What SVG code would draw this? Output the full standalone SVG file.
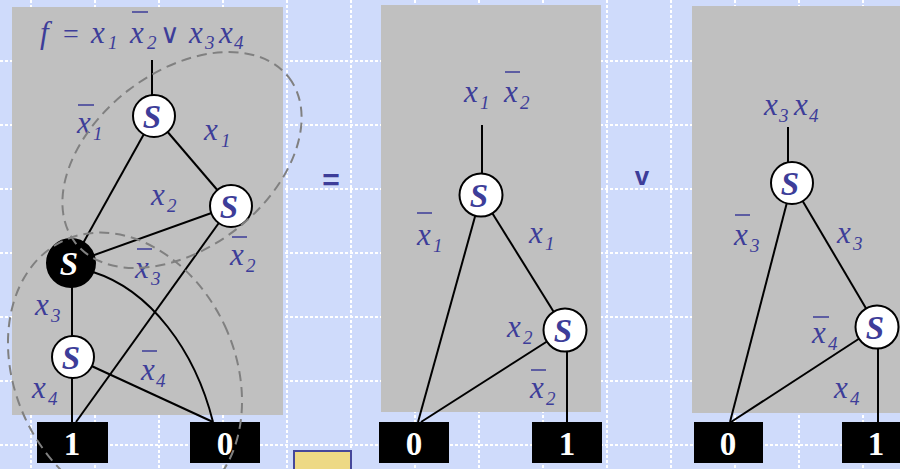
<svg xmlns="http://www.w3.org/2000/svg" width="900" height="469" viewBox="0 0 900 469">
<style>
.grid line{stroke:#ffffff;stroke-width:2;stroke-dasharray:3 2}
.panel{fill:#c0c0c0}
.box{fill:#000000}
.num{font-family:"Liberation Serif",serif;font-weight:bold;font-size:33px;fill:#ffffff;text-anchor:middle}
.lbl{font-family:"Liberation Serif",serif;font-style:italic;font-size:31px;fill:#3d3d99}
.sub{font-size:19px}
.up{font-family:"Liberation Serif","DejaVu Serif",serif;font-size:28px;fill:#3d3d99}
.or{font-family:"DejaVu Serif",serif;font-size:27px;fill:#3d3d99}
.op{font-family:"Liberation Sans",sans-serif;font-weight:bold;fill:#3d3d99}
.bar{stroke:#3d3d99;stroke-width:1.5}
.edge{stroke:#000000;stroke-width:2;fill:none}
.node{fill:#ffffff;stroke:#000000;stroke-width:2}
.nodeb{fill:#000000;stroke:#000000;stroke-width:2}
.s{font-family:"Liberation Serif",serif;font-style:italic;font-weight:bold;font-size:33px;fill:#3d3d99;text-anchor:middle}
.sw{fill:#ffffff}
.dash{fill:none;stroke:#808080;stroke-width:2;stroke-dasharray:10 6}
</style>
<rect x="0" y="0" width="900" height="469" fill="#cfdbfb"/>
<g class="grid">
<line x1="31" y1="0" x2="31" y2="469"/><line x1="95" y1="0" x2="95" y2="469"/><line x1="159" y1="0" x2="159" y2="469"/><line x1="223" y1="0" x2="223" y2="469"/><line x1="287" y1="0" x2="287" y2="469"/><line x1="351" y1="0" x2="351" y2="469"/><line x1="415" y1="0" x2="415" y2="469"/><line x1="479" y1="0" x2="479" y2="469"/><line x1="543" y1="0" x2="543" y2="469"/><line x1="607" y1="0" x2="607" y2="469"/><line x1="671" y1="0" x2="671" y2="469"/><line x1="735" y1="0" x2="735" y2="469"/><line x1="799" y1="0" x2="799" y2="469"/><line x1="863" y1="0" x2="863" y2="469"/>
<line x1="0" y1="61" x2="900" y2="61"/><line x1="0" y1="125" x2="900" y2="125"/><line x1="0" y1="189" x2="900" y2="189"/><line x1="0" y1="253" x2="900" y2="253"/><line x1="0" y1="317" x2="900" y2="317"/><line x1="0" y1="381" x2="900" y2="381"/><line x1="0" y1="445" x2="900" y2="445"/>
</g>
<rect class="panel" x="12" y="7" width="271" height="408"/>
<rect class="panel" x="381" y="5" width="220" height="407"/>
<rect class="panel" x="692" y="6" width="220" height="407"/>
<rect x="294" y="451" width="57" height="24" fill="#edd985" stroke="#45479a" stroke-width="2"/>
<text class="op" x="331" y="190" font-size="30" text-anchor="middle">=</text>
<text class="op" x="642" y="185" font-size="26" text-anchor="middle">v</text>

<g id="formula">
<text class="lbl" x="40" y="43">f</text>
<text class="up" x="63" y="43">=</text>
<text class="lbl" x="91" y="43">x</text><text class="lbl sub" x="108" y="49">1</text>
<line class="bar" x1="132" y1="12" x2="148" y2="12"/>
<text class="lbl" x="130" y="43">x</text><text class="lbl sub" x="147" y="49">2</text>
<text class="or" x="160" y="43">∨</text>
<text class="lbl" x="189" y="43">x</text><text class="lbl sub" x="205" y="49">3</text>
<text class="lbl" x="219" y="43">x</text><text class="lbl sub" x="234" y="49">4</text>
</g>

<g id="connectors">
<line class="edge" x1="152" y1="60" x2="152" y2="116"/>
<line class="edge" x1="154" y1="116" x2="72" y2="263"/>
<line class="edge" x1="154" y1="116" x2="231" y2="206"/>
<line class="edge" x1="72" y1="263" x2="231" y2="206"/>
<line class="edge" x1="231" y1="206" x2="76" y2="422"/>
<path class="edge" d="M93,272 C150,290 195,350 213,422"/>
<line class="edge" x1="72" y1="263" x2="72" y2="357"/>
<line class="edge" x1="72" y1="357" x2="72" y2="422"/>
<line class="edge" x1="72" y1="357" x2="213" y2="422"/>

<line class="edge" x1="482" y1="125" x2="482" y2="195"/>
<line class="edge" x1="481" y1="195" x2="418" y2="422"/>
<line class="edge" x1="481" y1="195" x2="565" y2="330"/>
<line class="edge" x1="565" y1="330" x2="421" y2="422"/>
<line class="edge" x1="567" y1="330" x2="567" y2="422"/>

<line class="edge" x1="788" y1="127" x2="788" y2="183"/>
<line class="edge" x1="792" y1="183" x2="730" y2="422"/>
<line class="edge" x1="792" y1="183" x2="877" y2="327"/>
<line class="edge" x1="877" y1="327" x2="731" y2="422"/>
<line class="edge" x1="878" y1="327" x2="878" y2="422"/>
</g>

<g id="labels">
<line class="bar" x1="78" y1="105" x2="94" y2="105"/>
<text class="lbl" x="77" y="133">x</text><text class="lbl sub" x="93" y="140">1</text>
<text class="lbl" x="204" y="140">x</text><text class="lbl sub" x="221" y="147">1</text>
<text class="lbl" x="151" y="205">x</text><text class="lbl sub" x="167" y="212">2</text>
<line class="bar" x1="232" y1="237" x2="247" y2="237"/>
<text class="lbl" x="230" y="265">x</text><text class="lbl sub" x="246" y="272">2</text>
<line class="bar" x1="137" y1="249" x2="152" y2="249"/>
<text class="lbl" x="135" y="278">x</text><text class="lbl sub" x="151" y="285">3</text>
<text class="lbl" x="35" y="315">x</text><text class="lbl sub" x="51" y="322">3</text>
<line class="bar" x1="142" y1="351" x2="157" y2="351"/>
<text class="lbl" x="141" y="380">x</text><text class="lbl sub" x="156" y="387">4</text>
<text class="lbl" x="32" y="398">x</text><text class="lbl sub" x="48" y="405">4</text>

<text class="lbl" x="464" y="102">x</text><text class="lbl sub" x="480" y="109">1</text>
<line class="bar" x1="505" y1="72" x2="520" y2="72"/>
<text class="lbl" x="504" y="102">x</text><text class="lbl sub" x="520" y="109">2</text>
<line class="bar" x1="417" y1="213" x2="432" y2="213"/>
<text class="lbl" x="417" y="245">x</text><text class="lbl sub" x="433" y="252">1</text>
<text class="lbl" x="529" y="243">x</text><text class="lbl sub" x="545" y="250">1</text>
<text class="lbl" x="507" y="337">x</text><text class="lbl sub" x="523" y="344">2</text>
<line class="bar" x1="531" y1="370" x2="546" y2="370"/>
<text class="lbl" x="530" y="398">x</text><text class="lbl sub" x="546" y="405">2</text>

<text class="lbl" x="764" y="115">x</text><text class="lbl sub" x="779" y="122">3</text>
<text class="lbl" x="794" y="115">x</text><text class="lbl sub" x="809" y="122">4</text>
<line class="bar" x1="735" y1="215" x2="750" y2="215"/>
<text class="lbl" x="734" y="245">x</text><text class="lbl sub" x="750" y="252">3</text>
<text class="lbl" x="837" y="243">x</text><text class="lbl sub" x="853" y="250">3</text>
<line class="bar" x1="813" y1="317" x2="829" y2="317"/>
<text class="lbl" x="812" y="343">x</text><text class="lbl sub" x="828" y="350">4</text>
<text class="lbl" x="834" y="398">x</text><text class="lbl sub" x="850" y="405">4</text>
</g>

<g id="n1"><circle class="node" cx="154" cy="116" r="21"/><text class="s" x="152" y="128">S</text></g>
<g id="n2"><circle class="node" cx="231" cy="206" r="21"/><text class="s" x="229" y="218">S</text></g>
<g id="n3"><circle class="nodeb" cx="71" cy="263" r="24"/><text class="s sw" x="69" y="275">S</text></g>
<g id="n4"><circle class="node" cx="73" cy="357" r="21"/><text class="s" x="71" y="369">S</text></g>
<g id="t1a"><rect class="box" x="37" y="422" width="71" height="41"/><text class="num" x="72" y="455">1</text></g>
<g id="t0a"><rect class="box" x="190" y="422" width="70" height="41"/><text class="num" x="225" y="455">0</text></g>

<g id="m1"><circle class="node" cx="481" cy="195" r="21.5"/><text class="s" x="479" y="207">S</text></g>
<g id="m2"><circle class="node" cx="565" cy="330" r="21.5"/><text class="s" x="563" y="342">S</text></g>
<g id="t0b"><rect class="box" x="379" y="422" width="70" height="41"/><text class="num" x="414" y="455">0</text></g>
<g id="t1b"><rect class="box" x="532" y="422" width="70" height="41"/><text class="num" x="567" y="455">1</text></g>

<g id="r1"><circle class="node" cx="792" cy="183" r="21"/><text class="s" x="790" y="195">S</text></g>
<g id="r2"><circle class="node" cx="877" cy="327" r="21.5"/><text class="s" x="875" y="339">S</text></g>
<g id="t0c"><rect class="box" x="694" y="422" width="69" height="41"/><text class="num" x="728" y="455">0</text></g>
<g id="t1c"><rect class="box" x="842" y="422" width="70" height="41"/><text class="num" x="876" y="455">1</text></g>

<g id="groups">
<ellipse class="dash" cx="182" cy="160" rx="135" ry="88" transform="rotate(-37.7 182 160)"/>
<ellipse class="dash" cx="125" cy="372" rx="110" ry="145" transform="rotate(-25 125 372)"/>
</g>
</svg>
